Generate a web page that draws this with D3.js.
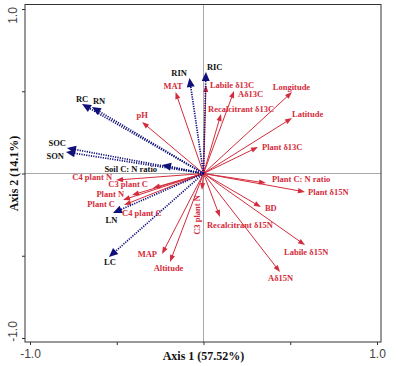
<!DOCTYPE html>
<html><head><meta charset="utf-8">
<script src="https://cdn.jsdelivr.net/npm/d3@7"></script>
<style>
html,body{margin:0;padding:0;background:#fff;}
svg{display:block;}
</style></head>
<body>
<svg id="chart" width="398" height="366"></svg>
<script>
// ---- data ----
const envNames = ["MAT","pH","Labile δ13C","Aδ13C","Recalcitrant δ13C","Longitude","Latitude","Plant δ13C",
  "Plant C: N ratio","Plant δ15N","BD","Recalcitrant δ15N","Labile δ15N","Aδ15N","C3 plant N","MAP","Altitude",
  "C4 plant N","C3 plant C","Plant N","Plant C","C4 plant C"];
const envX = [-0.161,-0.354,0.014,0.176,0.101,0.510,0.510,0.314,0.360,0.585,0.331,0.095,0.585,0.441,-0.009,-0.239,-0.193,-0.504,-0.291,-0.412,-0.464,-0.458];
const envY = [0.495,0.313,0.538,0.502,0.362,0.495,0.337,0.161,-0.058,-0.112,-0.204,-0.264,-0.435,-0.599,-0.100,-0.489,-0.538,-0.040,-0.088,-0.131,-0.161,-0.191];

const soilNames = ["RIC","RIN","RC","RN","SOC","SON","Soil C: N ratio","LN","LC"];
const soilX = [0.014,-0.081,-0.700,-0.643,-0.787,-0.793,-0.239,-0.522,-0.545];
const soilY = [0.617,0.581,0.422,0.404,0.155,0.131,0.052,-0.240,-0.508];

const axisTicks = [-1.0,-0.5,0,0.5,1.0];
const axisTitleX = "Axis 1 (57.52%)";
const axisTitleY = "Axis 2 (14.1%)";

// ---- label layout (pixel offsets from arrow tip) ----
const labelLayout = {
  "RIC":["start",1,-2],"RIN":["end",-2.5,-2],"RC":["middle",0,-2],"RN":["start",1,-3],
  "SOC":["end",-1,-2],"SON":["end",-2,7],"Soil C: N ratio":["end",-5,7],"LN":["middle",-1.5,10],"LC":["middle",1,8],
  "MAT":["middle",-2.5,-3],"pH":["middle",0,-4],"Labile δ13C":["start",4,3],"Aδ13C":["start",4,6],
  "Recalcitrant δ13C":["start",-13,-2],"Longitude":["middle",-0.5,-2],"Latitude":["start",0,-1],
  "Plant δ13C":["start",4,3],"Plant C: N ratio":["start",6,-1],"Plant δ15N":["start",3,3],"BD":["start",4,4],
  "Recalcitrant δ15N":["start",-13,11],"Labile δ15N":["start",-21,10],"Aδ15N":["start",-12,9],
  "C3 plant N":["rot",-2,25],"MAP":["end",-5,3],"Altitude":["middle",-1.5,9],"C4 plant N":["end",-4,0],
  "C3 plant C":["end",-5,-1],"Plant N":["end",-8,1.5],"Plant C":["end",-8,6.8],"C4 plant C":["start",-2,11.5]
};

const RED = "#d42c3c", BLUE = "#10107a";
const svg = d3.select("#chart");
const x = d3.scaleLinear().domain([-1,1]).range([30,377]);
const y = d3.scaleLinear().domain([-1,1]).range([338,9]);
const L = 25, T = 4.5, R = 381, B = 342;

// center lines
svg.append("line").attr("x1",x(0)).attr("x2",x(0)).attr("y1",T).attr("y2",B).attr("stroke","#aaa").attr("stroke-width",1);
svg.append("line").attr("x1",L).attr("x2",R).attr("y1",y(0)).attr("y2",y(0)).attr("stroke","#aaa").attr("stroke-width",1);

function arrow(g, x2, y2, color, headLen, headW, dotted){
  const x1 = x(0), y1 = y(0);
  const a = Math.atan2(y2-y1, x2-x1), c = Math.cos(a), s = Math.sin(a);
  const bx = x2 - headLen*c, by = y2 - headLen*s;
  const ln = g.append("line").attr("x1",x1).attr("y1",y1).attr("x2",x2-headLen*0.7*c).attr("y2",y2-headLen*0.7*s)
    .attr("stroke",color);
  if(dotted){ ln.attr("stroke-width",1.7).attr("stroke-dasharray","1.2,1.2"); }
  else { ln.attr("stroke-width",1); }
  g.append("polygon").attr("points",
    [[x2,y2],[bx - headW*s, by + headW*c],[bx + headW*s, by - headW*c]].map(p=>p.join(",")).join(" "))
    .attr("fill",color);
}

function label(g, name, tx, ty, color){
  const [anc, dx, dy] = labelLayout[name];
  const t = g.append("text").text(name).attr("fill",color)
    .attr("font-family","'Liberation Serif','Times New Roman',serif").attr("font-weight","bold").attr("font-size","8.5px");
  if(anc === "rot"){
    t.attr("text-anchor","middle").attr("transform",`translate(${tx+dx},${ty+dy}) rotate(-90)`);
  } else {
    t.attr("text-anchor",anc).attr("x",tx+dx).attr("y",ty+dy);
  }
}

const gEnv = svg.append("g");
envNames.forEach((n,i)=>{ arrow(gEnv, x(envX[i]), y(envY[i]), RED, 7, 2.6, false); });
const gSoil = svg.append("g");
soilNames.forEach((n,i)=>{ arrow(gSoil, x(soilX[i]), y(soilY[i]), BLUE, 9, 4, true); });
const gLab = svg.append("g");
envNames.forEach((n,i)=>label(gLab, n, x(envX[i]), y(envY[i]), RED));
soilNames.forEach((n,i)=>label(gLab, n, x(soilX[i]), y(soilY[i]), "#111"));

// frame
svg.append("rect").attr("x",L).attr("y",T).attr("width",R-L).attr("height",B-T)
  .attr("fill","none").attr("stroke","#333").attr("stroke-width",1);

// axes
const fmt = d => Math.abs(d)===1 ? d.toFixed(1) : "";
const ax = svg.append("g").attr("transform",`translate(0,${B})`)
  .call(d3.axisBottom(x).tickValues(axisTicks).tickSize(3).tickPadding(4).tickFormat(fmt));
ax.select(".domain").remove();
ax.selectAll("line").attr("stroke","#333");
ax.selectAll("text").attr("font-family","'Liberation Sans',Arial,sans-serif").attr("font-size","12px").attr("fill","#444");

const ay = svg.append("g").attr("transform",`translate(${L},0)`)
  .call(d3.axisLeft(y).tickValues(axisTicks).tickSize(3).tickFormat(fmt));
ay.select(".domain").remove();
ay.selectAll("line").attr("stroke","#333");
ay.selectAll("text").attr("font-family","'Liberation Sans',Arial,sans-serif").attr("font-size","12px").attr("fill","#444")
  .attr("x",null).attr("dy",null).attr("text-anchor","middle")
  .attr("transform", d => `translate(-8,${d>0?6:-7}) rotate(-90)`);

// titles
svg.append("text").text(axisTitleX).attr("x",x(0)).attr("y",360).attr("text-anchor","middle")
  .attr("font-family","'Liberation Serif','Times New Roman',serif").attr("font-weight","bold").attr("font-size","12px").attr("fill","#111");
svg.append("text").text(axisTitleY).attr("text-anchor","middle")
  .attr("transform",`translate(18,${y(0)}) rotate(-90)`)
  .attr("font-family","'Liberation Serif','Times New Roman',serif").attr("font-weight","bold").attr("font-size","12px").attr("fill","#111");
</script>
</body></html>
